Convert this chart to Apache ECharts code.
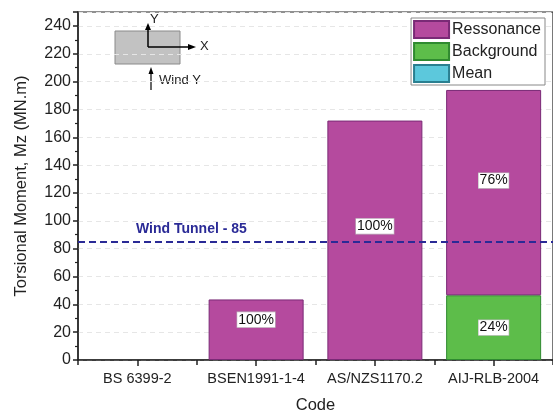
<!DOCTYPE html>
<html><head><meta charset="utf-8">
<script src="https://cdn.jsdelivr.net/npm/echarts@6/dist/echarts.min.js"></script>
<style>html,body{margin:0;padding:0;background:#fff}#c{width:553px;height:419px}</style>
</head><body><div id="c"></div>
<script>
const categories = ['BS 6399-2', 'BSEN1991-1-4', 'AS/NZS1170.2', 'AIJ-RLB-2004'];
const resonance = [null, 43.5, 172, 147.5];
const background = [null, null, null, 46.5];
const mean = [null, null, null, null];
const resonanceLabels = ['', '100%', '100%', '76%'];
const backgroundLabels = ['', '', '', '24%'];
const windTunnel = 85;
const yTicks = [0, 20, 40, 60, 80, 100, 120, 140, 160, 180, 200, 220, 240];

const FONT = 'Liberation Sans, Arial, sans-serif';
const labelOffsets = [[0,0],[0,-10],[0,-14],[0,-12]];
const boxLabel = {
  show: true, position: 'inside', color: '#111', fontSize: 14, fontFamily: FONT,
  backgroundColor: '#fff', borderColor: '#bbb', borderWidth: 0.6, padding: [1, 1, 0, 1]
};

const chart = echarts.init(document.getElementById('c'), null, {renderer: 'canvas'});
chart.setOption({
  animation: false,
  grid: {left: 78, right: -4, top: 12, bottom: 51, show: true, borderColor: '#222', borderWidth: 1.2, backgroundColor: 'transparent'},
  legend: {
    data: ['Ressonance', 'Background', 'Mean'],
    orient: 'vertical', right: 8, top: 18,
    itemWidth: 35, itemHeight: 17, itemGap: 3,
    padding: [2, 4, 2, 2], borderColor: '#888', borderWidth: 1, backgroundColor: '#fff',
    textStyle: {fontSize: 16, color: '#222', fontFamily: FONT, padding: [0, 0, 0, -2]},
    icon: 'rect'
  },
  xAxis: [{
    type: 'category', data: categories, position: 'bottom',
    name: 'Code', nameLocation: 'middle', nameGap: 37,
    nameTextStyle: {fontSize: 16.5, color: '#222', fontFamily: FONT},
    axisLine: {lineStyle: {color: '#222', width: 1.5}},
    axisTick: {show: true, length: 5, lineStyle: {color: '#222', width: 1.5}},
    axisLabel: {interval: 0, fontSize: 14.5, color: '#222', fontFamily: FONT, margin: 11}
  }, {
    type: 'category', data: categories, position: 'bottom', gridIndex: 0,
    axisLine: {show: false},
    axisTick: {show: true, alignWithLabel: true, length: 6, lineStyle: {color: '#222', width: 1.5}},
    axisLabel: {show: false}
  }],
  yAxis: {
    type: 'value', min: 0, max: 250, interval: 20,
    name: 'Torsional Moment, Mz (MN.m)', nameLocation: 'middle', nameGap: 48,
    nameTextStyle: {fontSize: 16.5, color: '#222', fontFamily: FONT},
    axisLine: {show: true, lineStyle: {color: '#222', width: 1.5}},
    axisTick: {show: true, length: 5, lineStyle: {color: '#222', width: 1.5}},
    minorTick: {show: true, splitNumber: 2, length: 3, lineStyle: {color: '#222', width: 1.2}},
    axisLabel: {fontSize: 16, color: '#222', fontFamily: FONT, margin: 7,
      formatter: v => yTicks.includes(v) ? String(v) : ''},
    splitLine: {show: true, lineStyle: {color: '#e6e6e6', type: [5, 4], width: 1}}
  },
  series: [{
    name: 'Background', type: 'bar', stack: 'a', barCategoryGap: '20%',
    data: background.map((v, i) => ({value: v, label: {...boxLabel, formatter: backgroundLabels[i], offset: labelOffsets[0]}})),
    itemStyle: {color: '#5dbd4a', borderColor: '#2f8a30', borderWidth: 1}
  }, {
    name: 'Ressonance', type: 'bar', stack: 'a',
    data: resonance.map((v, i) => ({value: v, label: {...boxLabel, formatter: resonanceLabels[i], offset: labelOffsets[i]}})),
    itemStyle: {color: '#b54a9e', borderColor: '#7a2a76', borderWidth: 1},
    markLine: {
      silent: true, symbol: 'none',
      data: [{yAxis: windTunnel}],
      lineStyle: {color: '#2a2a96', type: [7, 4], width: 2},
      label: {show: false}
    }
  }, {
    name: 'Mean', type: 'bar', stack: 'a',
    data: mean,
    itemStyle: {color: '#5cc8dc', borderColor: '#2a7f90', borderWidth: 1}
  }],
  graphic: [
    {type: 'text', left: 136, top: 222, style: {text: 'Wind Tunnel - ' + windTunnel, fill: '#2a2a96', font: 'bold 14px ' + FONT}},
    {type: 'rect', shape: {x: 115, y: 31, width: 65, height: 33}, style: {fill: '#c2c2c2', stroke: '#8a8a8a', lineWidth: 1}},
    {type: 'line', shape: {x1: 148, y1: 47, x2: 148, y2: 29}, style: {stroke: '#000', lineWidth: 1.5}},
    {type: 'polygon', shape: {points: [[145, 30], [151, 30], [148, 23]]}, style: {fill: '#000'}},
    {type: 'line', shape: {x1: 148, y1: 47, x2: 190, y2: 47}, style: {stroke: '#000', lineWidth: 1.5}},
    {type: 'polygon', shape: {points: [[188, 44], [188, 50], [196, 47]]}, style: {fill: '#000'}},
    {type: 'text', left: 150, top: 13, style: {text: 'Y', fill: '#222', font: '13px ' + FONT}},
    {type: 'text', left: 200, top: 40, style: {text: 'X', fill: '#222', font: '13px ' + FONT}},
    {type: 'line', shape: {x1: 151, y1: 90, x2: 151, y2: 73}, style: {stroke: '#000', lineWidth: 1.2}},
    {type: 'polygon', shape: {points: [[148.5, 74], [153.5, 74], [151, 67]]}, style: {fill: '#000'}},
    {type: 'text', left: 159, top: 74, style: {text: 'Wind Y', fill: '#222', font: '13px ' + FONT}}
  ]
});
</script></body></html>
